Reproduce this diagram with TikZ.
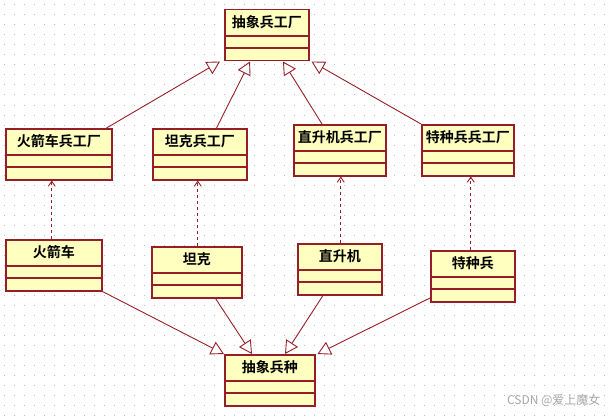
\documentclass[tikz,border=0pt]{standalone}
\usepackage{fontspec}
\setmainfont{Noto Sans CJK SC}
\newfontfamily\cjkbold{Noto Sans CJK SC Bold}
\usetikzlibrary{positioning, arrows.meta, calc}

\definecolor{umlred}{RGB}{150,30,40}
\definecolor{umlfill}{RGB}{255,255,192}
\definecolor{gridgray}{RGB}{190,190,190}

\tikzset{
  cls/.style={draw=umlred, fill=umlfill, line width=1.5pt, rectangle, anchor=north west,
    minimum height=51pt, inner sep=0pt},
  clsname/.style={font=\cjkbold\fontsize{14}{16}\selectfont, inner sep=0pt},
  extends/.style={draw=umlred, line width=0.9pt, -{Triangle[open, length=13pt, width=14pt, fill=white]}},
  realizes/.style={draw=umlred, line width=0.9pt, dashed, -{Straight Barb[length=5pt, width=7pt]}}
}

% box with name row and two empty compartments
\newcommand{\umlclass}[5]{%
  \node[cls, minimum width=#4pt] (#1) at (#2,#3) {};
  \node[clsname] at ($(#1.north)+(0,13.5)$) {#5};
  \draw[umlred, line width=1.2pt] ($(#1.north west)+(0,27)$) -- ($(#1.north east)+(0,27)$);
  \draw[umlred, line width=1.2pt] ($(#1.north west)+(0,39)$) -- ($(#1.north east)+(0,39)$);
}

\begin{document}
\begin{tikzpicture}[x=1pt, y=-1pt]
  \useasboundingbox (0,0) rectangle (609,417);
  % dotted grid
  \foreach \gy in {5,15,...,415}
    \draw[gridgray, line width=1pt, dash pattern=on 1pt off 9pt, dash phase=-4pt] (0,\gy) -- (609,\gy);

  % factories
  \umlclass{absfac}{224}{9}{84}{抽象兵工厂}
  \umlclass{rocketfac}{5}{128}{106}{火箭车兵工厂}
  \umlclass{tankfac}{152}{128}{94}{坦克兵工厂}
  \umlclass{helifac}{293}{124}{92}{直升机兵工厂}
  \umlclass{specfac}{421}{124}{92}{特种兵兵工厂}

  % products
  \umlclass{rocket}{5}{239}{96}{火箭车}
  \umlclass{tank}{151}{246}{90}{坦克}
  \umlclass{heli}{297}{243}{84}{直升机}
  \umlclass{spec}{430}{250}{84}{特种兵}
  \umlclass{abssoldier}{224}{354}{90}{抽象兵种}

  % factory inheritance
  \draw[extends] ([xshift=-6pt]rocketfac.north east) -- ([xshift=-4pt]absfac.south west);
  \draw[extends] ([xshift=-31pt]tankfac.north east) -- ([xshift=26pt]absfac.south west);
  \draw[extends] ([xshift=29pt]helifac.north west) -- ([xshift=59pt]absfac.south west);
  \draw[extends] (specfac.north west) -- ([xshift=2pt]absfac.south east);

  % products realize factories
  \draw[realizes] ([xshift=-2pt]rocket.north) -- (rocketfac.south -| {$(rocket.north)+(-2,0)$});
  \draw[realizes] ([xshift=1pt]tank.north) -- (tankfac.south -| {$(tank.north)+(1,0)$});
  \draw[realizes] ([xshift=1pt]heli.north) -- (helifac.south -| {$(heli.north)+(1,0)$});
  \draw[realizes] ([xshift=-2pt]spec.north) -- (specfac.south -| {$(spec.north)+(-2,0)$});

  % product inheritance
  \draw[extends] (rocket.south east) -- (abssoldier.north west);
  \draw[extends] ([xshift=-27pt]tank.south east) -- ([xshift=28pt]abssoldier.north west);
  \draw[extends] ([xshift=26pt]heli.south west) -- ([xshift=61pt]abssoldier.north west);
  \draw[extends] ([yshift=-48pt]spec.north west) -- ([xshift=2pt]abssoldier.north east);

  % watermark
  \node[text=gray!70, font=\fontsize{12}{14}\selectfont, anchor=south east] (mark) at (604,410) {CSDN @爱上魔女};
\end{tikzpicture}
\end{document}
